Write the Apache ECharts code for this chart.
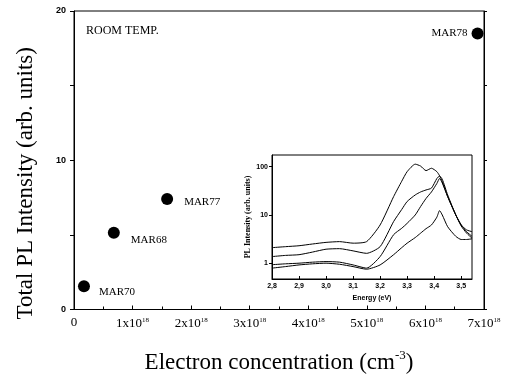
<!DOCTYPE html>
<html>
<head>
<meta charset="utf-8">
<script src="https://cdn.jsdelivr.net/npm/echarts@6/dist/echarts.min.js"></script>
<style>
  html, body { margin: 0; padding: 0; background: #fff; }
  #chart { width: 513px; height: 379px; }
</style>
</head>
<body>
<div id="chart"></div>
<script>
// main plot: total PL vs electron concentration
const samples = ['MAR70', 'MAR68', 'MAR77', 'MAR78']
const concentration = [0.17e18, 0.68e18, 1.59e18, 6.89e18]
const totalPL = [1.55, 5.15, 7.4, 18.5]

// inset: PL spectra (energy in eV, log intensity)
const energy = [2.8, 2.85, 2.9, 2.95, 3.0, 3.05, 3.1, 3.15, 3.2, 3.25, 3.28, 3.3, 3.33, 3.35, 3.37, 3.39, 3.41, 3.42, 3.43, 3.45, 3.48, 3.5, 3.52, 3.54]
const specA = [2.1, 2.2, 2.3, 2.5, 2.7, 2.8, 2.6, 2.8, 6.2, 24, 50, 79, 113, 103, 83, 93, 79, 65, 49, 24, 10, 6.2, 4.9, 4.5]
const specB = [1.37, 1.45, 1.5, 1.7, 1.95, 2.0, 1.8, 1.6, 2.2, 7.3, 13, 19, 26, 30, 33, 36, 57, 64, 55, 26, 10, 6.2, 4.5, 3.6]
const specC = [0.93, 0.97, 1.0, 1.05, 1.08, 1.05, 0.92, 0.79, 1.37, 3.9, 5.3, 6.7, 10, 15, 22, 30, 45, 57, 46, 24, 10, 5.9, 4.2, 3.3]
const specD = [0.79, 0.85, 0.92, 0.97, 1.0, 0.95, 0.85, 0.75, 0.92, 1.5, 2.1, 2.6, 3.4, 4.2, 5.2, 6.2, 9, 12.3, 10, 5.7, 3.6, 3.1, 3.1, 3.2]

const serif = '"Liberation Serif", "Times New Roman", serif'
const sans = '"Liberation Sans", Arial, sans-serif'

const labelPos = [
  { position: 'right', offset: [4, 6] },
  { position: 'right', offset: [6, 7] },
  { position: 'right', offset: [6, 3] },
  { position: 'left', offset: [1, 0] }
]

const chart = echarts.init(document.getElementById('chart'))

const pair = (xs, ys) => xs.map((x, i) => [x, ys[i]])

chart.setOption({
  animation: false,
  backgroundColor: '#fff',
  title: {
    text: 'ROOM TEMP.',
    left: 81,
    top: 20,
    textStyle: { fontFamily: serif, fontSize: 12, fontWeight: 'normal', color: '#000' }
  },
  grid: [
    { left: 74, top: 11, right: 29, bottom: 65, show: true, borderColor: '#000', borderWidth: 1 },
    { left: 272, top: 155, width: 200, height: 124, show: true, borderColor: '#000', borderWidth: 1, backgroundColor: '#fff' }
  ],
  xAxis: [
    {
      gridIndex: 0,
      type: 'value',
      min: 0,
      max: 7e18,
      interval: 1e18,
      name: 'Electron concentration {s|(cm}{sup|-3}{s|)}',
      nameLocation: 'middle',
      nameGap: 40,
      nameTextStyle: {
        fontFamily: serif, fontSize: 23, color: '#000',
        rich: {
          s: { fontFamily: serif, fontSize: 23, color: '#000' },
          sup: { fontFamily: serif, fontSize: 13, color: '#000', verticalAlign: 'bottom', padding: [0, 0, 13, 0] }
        }
      },
      axisLine: { lineStyle: { color: '#000', width: 1 } },
      axisTick: { inside: true, length: 4, lineStyle: { color: '#000' } },
      minorTick: { show: true, splitNumber: 2, length: 3, lineStyle: { color: '#000' } },
      splitLine: { show: false },
      axisLabel: {
        margin: 7,
        color: '#000',
        fontFamily: serif,
        fontSize: 13,
        formatter: v => {
          const n = Math.round(v / 1e18)
          return n === 0 ? '{a|0}' : '{a|' + n + 'x10}{sup|18}'
        },
        rich: {
          a: { fontFamily: serif, fontSize: 13, color: '#000' },
          sup: { fontFamily: serif, fontSize: 7, color: '#000', verticalAlign: 'bottom', padding: [0, 0, 8, 0] }
        }
      }
    },
    {
      gridIndex: 1,
      type: 'value',
      min: 2.8,
      max: 3.54,
      interval: 0.1,
      name: 'Energy (eV)',
      nameLocation: 'middle',
      nameGap: 16,
      nameTextStyle: { fontFamily: sans, fontSize: 7, fontWeight: 'bold', color: '#000' },
      axisLine: { lineStyle: { color: '#000' } },
      axisTick: { inside: true, length: 3, lineStyle: { color: '#000' } },
      splitLine: { show: false },
      axisLabel: {
        margin: 4,
        color: '#000',
        fontFamily: sans,
        fontSize: 7,
        fontWeight: 'bold',
        showMaxLabel: false,
        formatter: v => v.toFixed(1).replace('.', ',')
      }
    }
  ],
  yAxis: [
    {
      gridIndex: 0,
      type: 'value',
      min: 0,
      max: 20,
      interval: 5,
      name: 'Total PL Intensity (arb. units)',
      nameLocation: 'middle',
      nameGap: 37,
      nameTextStyle: { fontFamily: serif, fontSize: 23, color: '#000', padding: [0, 46, 0, 0] },
      axisLine: { lineStyle: { color: '#000' } },
      axisTick: { length: 4, lineStyle: { color: '#000' } },
      splitLine: { show: false },
      axisLabel: {
        margin: 8,
        color: '#000',
        fontFamily: sans,
        fontSize: 9,
        fontWeight: 'bold',
        formatter: v => (v % 10 === 0 ? String(v) : '')
      }
    },
    {
      gridIndex: 0,
      type: 'value',
      position: 'right',
      min: 0,
      max: 20,
      interval: 5,
      axisLine: { show: true, lineStyle: { color: '#000' } },
      axisTick: { length: 3, lineStyle: { color: '#000' } },
      axisLabel: { show: false },
      splitLine: { show: false }
    },
    {
      gridIndex: 1,
      type: 'log',
      min: 0.47,
      max: 175,
      name: 'PL Intensity (arb. units)',
      nameLocation: 'middle',
      nameGap: 14,
      nameTextStyle: { fontFamily: serif, fontSize: 8, fontWeight: 'bold', color: '#000' },
      axisLine: { lineStyle: { color: '#000' } },
      axisTick: { length: 3, customValues: [1, 10, 100], lineStyle: { color: '#000' } },
      splitLine: { show: false },
      axisLabel: {
        margin: 4,
        color: '#000',
        fontFamily: sans,
        fontSize: 7,
        fontWeight: 'bold',
        customValues: [1, 10, 100]
      }
    }
  ],
  series: [
    {
      type: 'scatter',
      xAxisIndex: 0,
      yAxisIndex: 0,
      symbol: 'circle',
      symbolSize: 12,
      itemStyle: { color: '#000', opacity: 1 },
      data: concentration.map((x, i) => ({
        value: [x, totalPL[i]],
        label: {
          show: true,
          formatter: samples[i],
          position: labelPos[i].position,
          offset: labelPos[i].offset,
          fontFamily: serif,
          fontSize: 11,
          color: '#000'
        }
      })),
      z: 5
    },
    ...[specA, specB, specC, specD].map(s => ({
      type: 'line',
      xAxisIndex: 1,
      yAxisIndex: 2,
      showSymbol: false,
      smooth: 0.2,
      lineStyle: { color: '#000', width: 1 },
      data: pair(energy, s)
    }))
  ]
})
</script>
</body>
</html>
